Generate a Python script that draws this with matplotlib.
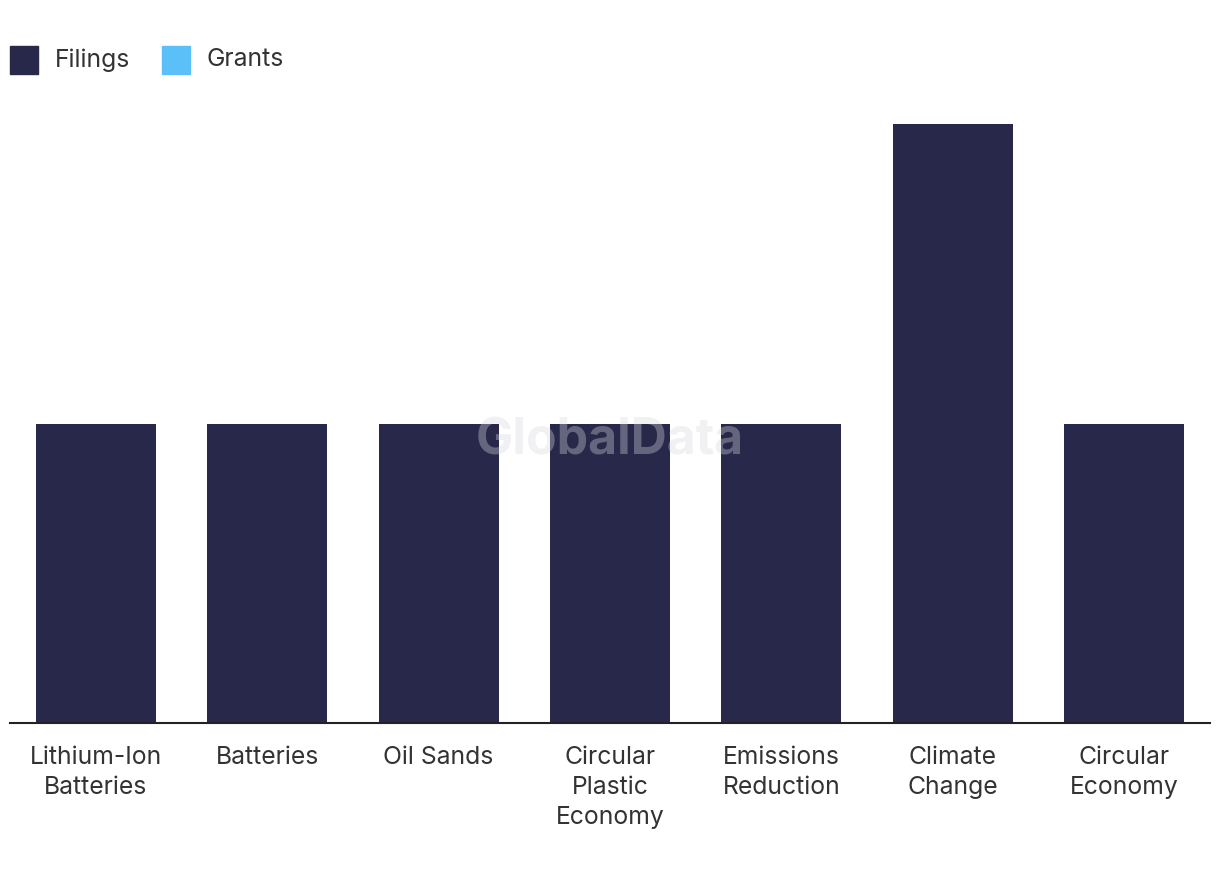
import matplotlib
matplotlib.use("Agg")
import matplotlib.pyplot as plt
from matplotlib.patches import Rectangle

categories = ["Lithium-Ion\nBatteries", "Batteries", "Oil Sands", "Circular\nPlastic\nEconomy",
              "Emissions\nReduction", "Climate\nChange", "Circular\nEconomy"]
filings = [1, 1, 1, 1, 1, 2, 1]
grants = [0, 0, 0, 0, 0, 0, 0]

navy = "#28284a"
light = "#5bc0f8"

plt.rcParams['font.family'] = ['Inter', 'DejaVu Sans']

fig = plt.figure(figsize=(12.2, 8.8), dpi=100)
W, H = 1220, 880
ax = fig.add_axes([10 / W, 1 - 723 / H, 1200 / W, (723 - 124) / H])
x = list(range(len(categories)))
ax.bar(x, filings, width=0.7, color=navy, zorder=2)
ax.bar(x, grants, width=0.7, color=light, zorder=2)
ax.set_xlim(-0.5, len(categories) - 0.5)
ax.set_ylim(0, 2)
ax.set_yticks([])
ax.set_xticks(x)
ax.set_xticklabels(categories, fontsize=17.8, color="#333333", linespacing=1.4)
ax.tick_params(axis='x', length=0, pad=16.5)
for s in ["top", "right", "left"]:
    ax.spines[s].set_visible(False)
ax.spines["bottom"].set_color("#222222")
ax.spines["bottom"].set_linewidth(1.5)

# watermark
fig.text(610 / W, 1 - 441 / H, "GlobalData", fontsize=36, fontweight="bold",
         color="#d8d8e0", alpha=0.35, ha="center", va="center", zorder=5)

# legend
fig.patches.append(Rectangle((10 / W, 1 - 74 / H), 28 / W, 28 / H, transform=fig.transFigure,
                             color=navy, figure=fig))
fig.text(55 / W, 1 - 60 / H, "Filings", fontsize=17.8, color="#333333", va="center")
fig.patches.append(Rectangle((162 / W, 1 - 74 / H), 28 / W, 28 / H, transform=fig.transFigure,
                             color=light, figure=fig))
fig.text(207 / W, 1 - 60 / H, "Grants", fontsize=17.8, color="#333333", va="center")

fig.savefig("out.png", dpi=100)
